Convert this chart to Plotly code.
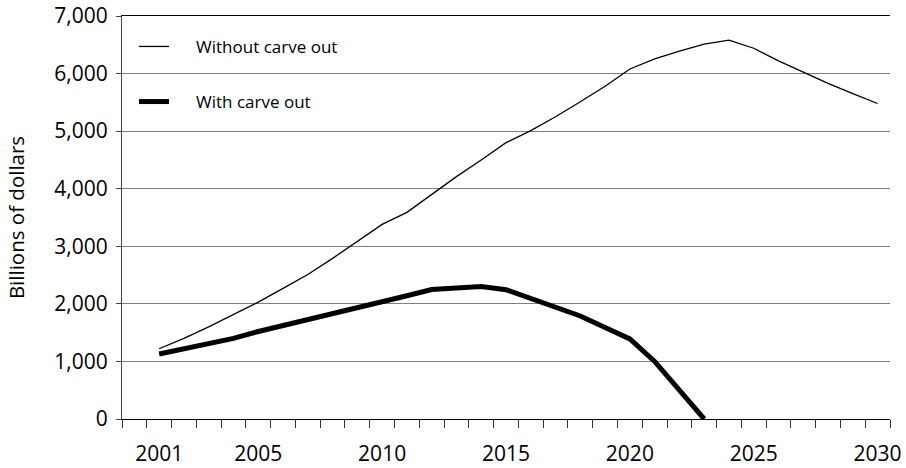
import plotly.graph_objects as go

years = list(range(2001, 2031))
without_carve_out = [1220, 1400, 1600, 1810, 2030, 2270, 2510, 2790, 3080, 3380,
                     3590, 3900, 4210, 4500, 4800, 5010, 5250, 5510, 5780, 6080,
                     6255, 6390, 6510, 6580, 6440, 6220, 6020, 5830, 5650, 5480]
with_years = list(range(2001, 2024))
with_carve_out = [1130, 1225, 1315, 1400, 1520, 1620, 1730, 1830, 1930, 2030,
                  2140, 2250, 2280, 2300, 2245, 2095, 1945, 1790, 1590, 1390,
                  1000, 500, 0]
x_tick_labels = [2001, 2005, 2010, 2015, 2020, 2025, 2030]
y_ticks = [0, 1000, 2000, 3000, 4000, 5000, 6000, 7000]

FONT = "Open Sans"
PAD = "\u00a0" * 5

fig = go.Figure()
fig.add_trace(go.Scatter(x=years, y=without_carve_out, mode="lines",
                         name=PAD + "Without carve out", legendgroup="a",
                         line=dict(color="black", width=1.3)))
fig.add_trace(go.Scatter(x=with_years, y=with_carve_out, mode="lines",
                         name=PAD + "With carve out", legendgroup="b",
                         line=dict(color="black", width=5)))

fig.update_layout(
    width=906, height=468,
    margin=dict(l=122, r=16, t=16, b=49, autoexpand=False),
    paper_bgcolor="white", plot_bgcolor="white",
    font=dict(family=FONT, size=17, color="black"),
    showlegend=True,
    legend=dict(x=0.0156, y=0.968, xanchor="left", yanchor="top",
                bgcolor="rgba(0,0,0,0)", itemwidth=30,
                traceorder="grouped", tracegroupgap=30,
                font=dict(family=FONT, size=17)),
    xaxis=dict(range=[1999.5, 2030.5], tickmode="array", tickvals=x_tick_labels,
               ticks="", showgrid=False, zeroline=False, automargin=False,
               showline=True, linecolor="black", linewidth=1.2, mirror=True,
               tickfont=dict(family=FONT, size=21), ticklabelstandoff=16,
               minor=dict(ticks="outside", tick0=1999.5, dtick=1, ticklen=8,
                          tickcolor="#333", tickwidth=1, showgrid=False)),
    yaxis=dict(range=[0, 7000], tickmode="array", tickvals=y_ticks,
               tickformat=",", showgrid=True, gridcolor="#7f7f7f", gridwidth=1,
               zeroline=False, showline=True, linecolor="#444", linewidth=1,
               ticks="outside", ticklen=5, tickcolor="#444", automargin=False,
               tickfont=dict(family=FONT, size=21), ticklabelstandoff=4,
               title=dict(text="Billions of dollars", standoff=24,
                          font=dict(family=FONT, size=20.5))),
)

fig.write_html("out.html", config={"displayModeBar": False},
               post_script="document.body.style.margin='0';")
